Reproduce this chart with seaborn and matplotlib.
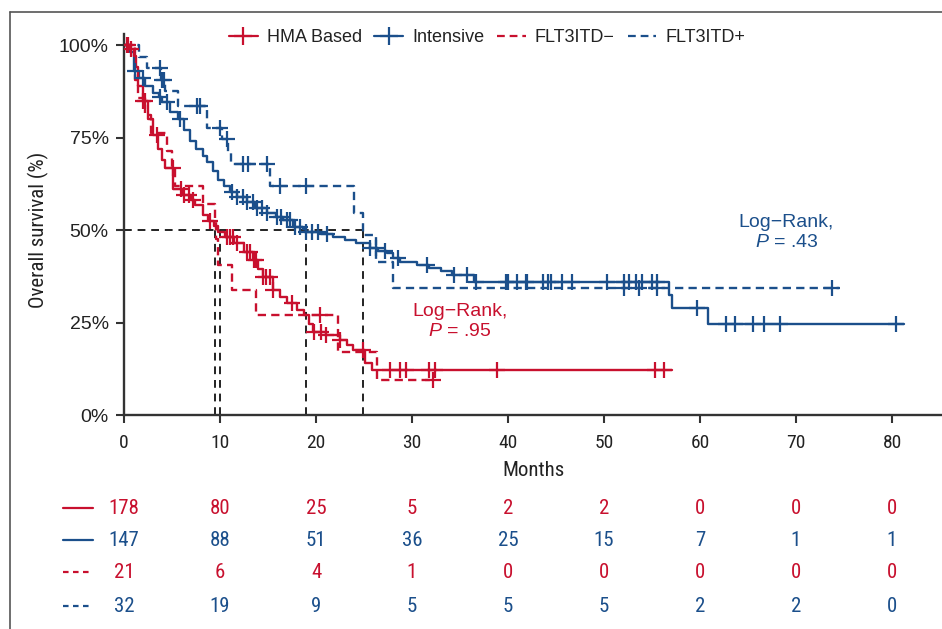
import numpy as np
import matplotlib
matplotlib.use('Agg')
import matplotlib.pyplot as plt
import matplotlib.transforms as mtrans
from matplotlib.lines import Line2D
import seaborn as sns

# ---- data ----
# step curves: event times (months) and survival level (%) after each step
hma_t = [0, 0.5, 1.0, 1.3, 1.5, 2.0, 2.5, 3.0, 3.5, 4.0, 4.3, 5.1, 6.0, 7.0, 7.4, 8.2,
         8.8, 9.4, 9.8, 10.5, 11.5, 12.5, 13.4, 14.0, 14.5, 15.5, 16.3, 17.0, 18.0,
         18.8, 19.3, 19.7, 21.0, 22.5, 23.2, 23.9, 25.1, 25.8]
hma_s = [100, 99, 97, 94, 89, 85, 80, 75.7, 72, 69, 66.8, 61, 59.5, 58, 56.7, 54,
         52.5, 51, 49.5, 48, 46.5, 44, 41.9, 39.5, 37.3, 33.8, 32, 30.3, 28.5,
         27, 24.5, 22.4, 21.5, 20.3, 19, 17.6, 14, 12.2]
hma_end = 57.1
hma_cens = [0.3, 0.7, 2.0, 2.2, 3.4, 5.9, 6.3, 6.8, 7.2, 9.0, 10.7, 11.0, 11.4, 11.8,
            12.8, 13.1, 13.5, 13.8, 14.5, 14.8, 15.2, 15.5, 17.5, 19.8, 20.5, 21.0,
            22.5, 24.9, 27.7, 28.7, 29.4, 31.8, 32.4, 38.9, 55.3, 56.3]

int_t = [0, 0.6, 1.0, 1.6, 2.2, 3.0, 3.6, 4.0, 4.8, 5.6, 6.2, 6.9, 7.5, 8.2, 8.6, 9.3,
         9.8, 10.4, 11.0, 11.8, 12.8, 13.6, 14.9, 15.8, 16.6, 17.6, 18.6, 19.0, 20.5,
         21.8, 23.0, 24.2, 25.6, 26.5, 27.4, 28.0, 28.7, 30.5, 31.8, 33.0, 34.2, 36.5,
         56.8, 57.1, 60.8]
int_s = [100, 98, 93, 91, 89, 87, 86, 84.5, 82, 80, 77, 74, 72, 70, 68.4, 66,
         63.5, 62, 60.3, 59, 57.5, 56, 54.6, 53.5, 52.7, 50.8, 50.2, 49.5, 48.8,
         48.1, 47.3, 46.5, 45.1, 44.4, 43.8, 42.5, 41.4, 40.5, 39.7, 38.8, 37.8, 36.0,
         32.4, 28.9, 24.6]
int_end = 81.3
int_cens = [1.1, 2.0, 3.7, 4.5, 5.8, 11.3, 11.8, 12.4, 12.8, 13.4, 13.9, 14.4, 14.9,
            15.9, 16.4, 17.0, 17.3, 17.8, 18.3, 19.0, 19.6, 20.2, 21.1, 25.6, 26.3,
            27.2, 28.5, 31.6, 34.4, 35.7, 36.7, 39.8, 40.0, 40.9, 41.9, 42.0, 43.6,
            44.2, 44.5, 45.6, 46.7, 50.3, 52.1, 52.6, 53.3, 54.0, 55.0, 55.5, 59.7,
            62.7, 63.6, 65.5, 66.7, 68.3, 80.4]

neg_t = [0, 1.1, 1.5, 2.2, 2.8, 4.5, 5.0, 5.3, 8.2, 9.5, 9.6, 9.8, 11.2, 13.8, 22.3, 26.4]
neg_s = [100, 90.5, 85.7, 81, 76.2, 71.4, 66.7, 61.9, 57.1, 52.4, 47.6, 40.5, 33.8,
         27, 17, 9.5]
neg_end = 32.2
neg_cens = [0.4, 5.1, 20.4, 32.2]

pos_t = [0, 1.6, 2.4, 3.9, 4.3, 5.6, 8.6, 10.2, 10.8, 11.1, 15.2, 24.0, 24.9, 26.3, 28.0]
pos_s = [100, 96.9, 93.8, 90.6, 87.5, 83.5, 77.5, 74.5, 71, 67.8, 62, 54.6, 48.6,
         41.4, 34.3]
pos_end = 74.5
pos_cens = [3.7, 4.0, 4.2, 7.6, 7.9, 10.0, 10.7, 12.4, 12.9, 14.9, 16.2, 19.0, 52.1,
            53.6, 55.5, 73.8]

medians = [9.5, 10.0, 19.0, 24.9]

risk_times = [0, 10, 20, 30, 40, 50, 60, 70, 80]
risk_hma = [178, 80, 25, 5, 2, 2, 0, 0, 0]
risk_int = [147, 88, 51, 36, 25, 15, 7, 1, 1]
risk_neg = [21, 6, 4, 1, 0, 0, 0, 0, 0]
risk_pos = [32, 19, 9, 5, 5, 5, 2, 2, 0]

RED = '#C8102E'
BLUE = '#1B4F8B'
NARROW = ['Roboto Condensed', 'Liberation Sans Narrow', 'Liberation Sans', 'DejaVu Sans']

sns.set_style('ticks')
plt.rcParams['font.family'] = ['Liberation Sans', 'DejaVu Sans']
plt.rcParams['mathtext.fontset'] = 'custom'
plt.rcParams['mathtext.it'] = 'Liberation Sans:italic'
plt.rcParams['mathtext.rm'] = 'Liberation Sans'

W, H = 942, 629
fig = plt.figure(figsize=(W / 100, H / 100), dpi=100)
ax = fig.add_axes([124 / W, (H - 415) / H, (W - 124) / W, (415 - 34) / H])

DASH = (0, (3.5, 2.2))


def step_level(times, levels, q):
    idx = np.searchsorted(times, q, side='right') - 1
    return np.asarray(levels)[idx]


def km(times, levels, end, cens, color, ls):
    x = list(times) + [end]
    y = list(levels) + [levels[-1]]
    sns.lineplot(x=x, y=y, ax=ax, color=color, linewidth=1.7, linestyle=ls,
                 drawstyle='steps-post', estimator=None, sort=False, legend=False)
    ax.plot(cens, step_level(times, levels, cens), ls='none', marker='+',
            ms=12, mew=1.6, color=color, zorder=4)


# median reference lines
ax.plot([0, max(medians)], [50, 50], color='#222', lw=1.4, ls=(0, (4, 3)), zorder=1)
for m in medians:
    ax.plot([m, m], [0, 50], color='#222', lw=1.4, ls=(0, (4, 3)), zorder=1)

km(pos_t, pos_s, pos_end, pos_cens, BLUE, DASH)
km(neg_t, neg_s, neg_end, neg_cens, RED, DASH)
km(int_t, int_s, int_end, int_cens, BLUE, '-')
km(hma_t, hma_s, hma_end, hma_cens, RED, '-')

ax.set_xlim(0, (W - 124) / 9.6)
ax.set_ylim(0, 103)
ax.set_xticks(risk_times)
ax.set_yticks([0, 25, 50, 75, 100])
ax.set_yticklabels(['0%', '25%', '50%', '75%', '100%'], fontsize=14, color='#222')
ax.set_xticklabels([str(t) for t in risk_times], family=NARROW, fontsize=14, color='#222')
ax.tick_params(axis='both', length=6, width=1.5, color='#333')
ax.tick_params(axis='x', pad=8)
ax.tick_params(axis='y', pad=5)
sns.despine(ax=ax)
for sp in ['left', 'bottom']:
    ax.spines[sp].set_linewidth(1.7)
    ax.spines[sp].set_color('#333')
ax.set_xlabel('Months', family=NARROW, fontsize=15, color='#222', labelpad=6)
ax.set_ylabel('')
fig.text(38 / W, 1 - 230 / H, 'Overall survival (%)', rotation=90, family=NARROW,
         fontsize=15, color='#222', ha='center', va='center')

# log-rank annotations
ax.text(35, 25.2, 'Log\u2212Rank,\n$P$ = .95', color=RED, fontsize=14,
        ha='center', va='center', linespacing=1.2)
ax.text(69, 49.3, 'Log\u2212Rank,\n$P$ = .43', color=BLUE, fontsize=14,
        ha='center', va='center', linespacing=1.2)

# legend
handles = [
    Line2D([], [], color=RED, lw=1.6, marker='+', ms=13, mew=1.6),
    Line2D([], [], color=BLUE, lw=1.6, marker='+', ms=13, mew=1.6),
    Line2D([], [], color=RED, lw=1.6, ls=DASH),
    Line2D([], [], color=BLUE, lw=1.6, ls=DASH),
]
fig.legend(handles, ['HMA Based', 'Intensive', 'FLT3ITD\u2212', 'FLT3ITD+'],
           loc='center', bbox_to_anchor=(487 / W, 1 - 38 / H), ncol=4, frameon=False,
           fontsize=13, handlelength=1.6, handletextpad=0.5, columnspacing=0.7,
           labelcolor='#222')

# number at risk table
tr = mtrans.blended_transform_factory(ax.transData, fig.transFigure)
rows = [(risk_hma, RED, '-', 508), (risk_int, BLUE, '-', 540),
        (risk_neg, RED, (0, (2.5, 2)), 572), (risk_pos, BLUE, (0, (2.5, 2)), 606)]
for vals, col, ls, ypx in rows:
    yf = 1 - ypx / H
    for t, v in zip(risk_times, vals):
        ax.text(t, yf, str(v), transform=tr, ha='center', va='center',
                family=NARROW, fontsize=15, color=col, clip_on=False)
    fig.add_artist(Line2D([63 / W, 93 / W], [yf, yf], color=col, lw=1.6, ls=ls))

# outer frame (top and left)
fig.add_artist(Line2D([10 / W, 1], [1 - 12 / H, 1 - 12 / H], color='#555', lw=1.2))
fig.add_artist(Line2D([10 / W, 10 / W], [0, 1 - 12 / H], color='#555', lw=1.2))

fig.savefig('out.png', dpi=100)
